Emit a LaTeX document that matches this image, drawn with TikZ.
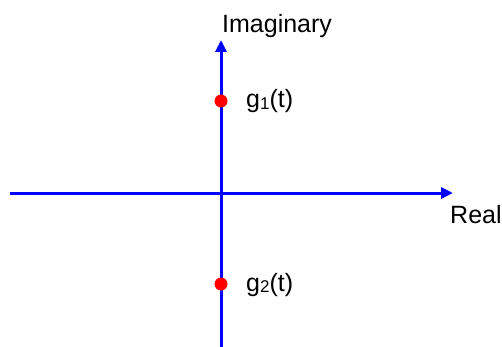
\documentclass[tikz,border=0pt]{standalone}
\usepackage{fontspec}
\setmainfont{Liberation Sans}
\usetikzlibrary{arrows.meta}
\begin{document}
\begin{tikzpicture}[x=1pt,y=-1pt,
  axis/.style={draw={rgb,255:red,0;green,0;blue,255},line width=3pt,-{Triangle[length=12pt,width=11pt]}},
  pt/.style={circle,fill=red,inner sep=0pt,minimum size=13pt},
  lbl/.style={anchor=base west,inner sep=0pt,font=\fontsize{25}{29}\selectfont}]
\useasboundingbox (0,0) rectangle (502,347);
\coordinate (vb) at (221,347);
\coordinate (vt) at (221,40);
\coordinate (hl) at (10,193);
\coordinate (hr) at (453,193);
\draw[axis] (hl) -- (hr);
\draw[axis] (vb) -- (vt);
\node[pt] (p1) at (221,101) {};
\node[pt] (p2) at (221,284) {};
\node[lbl] (im) at (222,33) {Imaginary};
\node[lbl] (re) at (450,223) {Real};
\node[lbl] (g1) at (246,108) {g\raisebox{-1.5pt}{\fontsize{17}{17}\selectfont 1}(t)};
\node[lbl] (g2) at (246,291) {g\raisebox{-1.5pt}{\fontsize{17}{17}\selectfont 2}(t)};
\end{tikzpicture}
\end{document}
